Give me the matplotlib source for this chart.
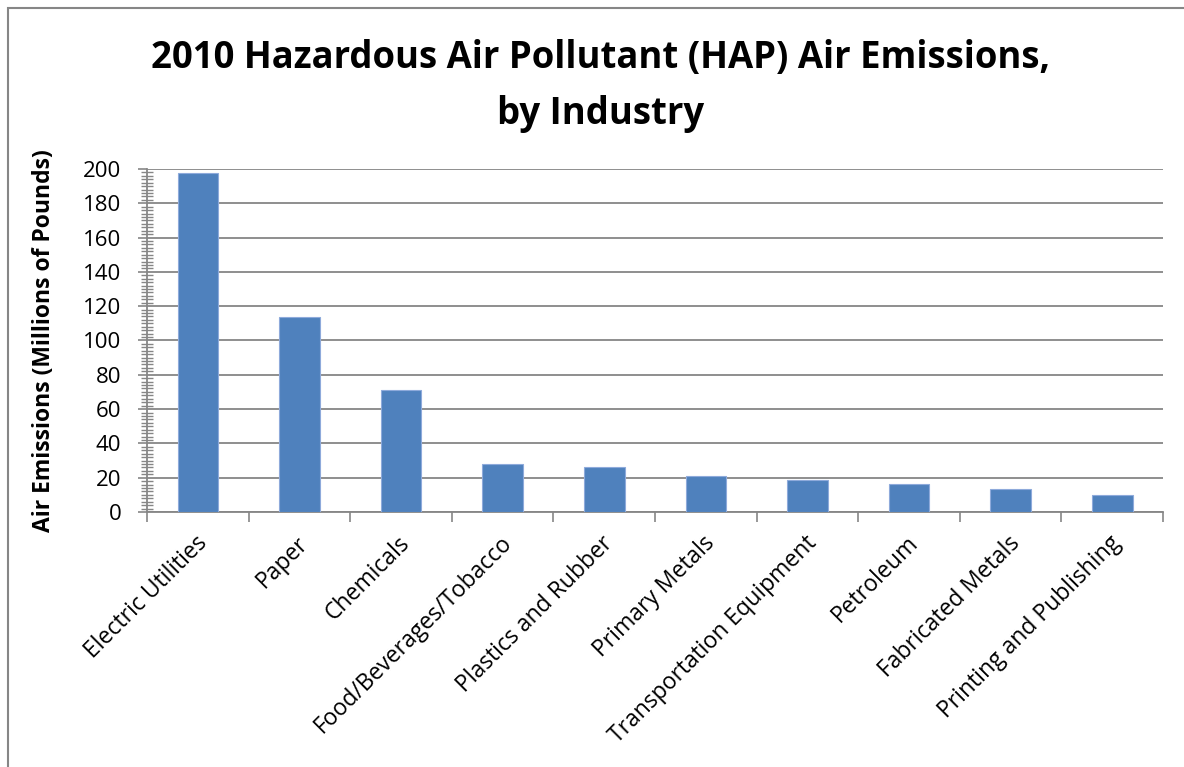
import numpy as np
import matplotlib
matplotlib.use("Agg")
import matplotlib.pyplot as plt
from matplotlib.patches import Rectangle

plt.rcParams['font.family'] = ['Open Sans', 'DejaVu Sans']

industries = ["Electric Utilities", "Paper", "Chemicals", "Food/Beverages/Tobacco",
              "Plastics and Rubber", "Primary Metals", "Transportation Equipment",
              "Petroleum", "Fabricated Metals", "Printing and Publishing"]
emissions = [197.7, 113.7, 71.1, 28.0, 26.0, 21.0, 18.9, 16.5, 13.2, 10.1]
yticks = [0, 20, 40, 60, 80, 100, 120, 140, 160, 180, 200]

grey = "#868686"

fig = plt.figure(figsize=(11.84, 7.67), dpi=100)
ax = fig.add_axes([0.1242, 0.3325, 0.8581, 0.4472])

x = np.arange(len(industries))
ax.bar(x, emissions, width=0.4, color="#4F81BD", edgecolor="#8EAADB", linewidth=0.8, zorder=3)

ax.set_xlim(-0.5, len(industries) - 0.5)
ax.set_ylim(0, 200)
ax.set_yticks(yticks)
ax.set_yticklabels([str(v) for v in yticks], fontsize=16)
ax.set_yticks(np.arange(0, 201, 2), minor=True)
ax.yaxis.grid(True, color=grey, linewidth=1.3, zorder=0)

# category boundaries get the ticks, labels sit at bar centres
ax.set_xticks(np.arange(-0.5, len(industries)), minor=False)
ax.set_xticklabels([])
ax.tick_params(axis='x', which='major', direction='out', length=7, width=1.2, color=grey)
for i, name in enumerate(industries):
    ax.annotate(name, xy=(i, 0), xycoords=('data', 'data'), xytext=(4, -20),
                textcoords='offset points', rotation=45, rotation_mode='anchor',
                ha='right', va='center', fontsize=16.5)

ax.tick_params(axis='y', which='major', direction='out', length=6.5, width=1.2, color=grey, pad=12)
ax.tick_params(axis='y', which='minor', direction='inout', length=8, width=1.0, color=grey)

for s in ['top', 'right']:
    ax.spines[s].set_visible(False)
for s in ['left', 'bottom']:
    ax.spines[s].set_color(grey)
    ax.spines[s].set_linewidth(1.3)

ax.set_ylabel("Air Emissions (Millions of Pounds)", fontsize=16.5, fontweight='bold')
ax.yaxis.set_label_coords(-0.0896, 0.5)

fig.text(0.507, 0.888, "2010 Hazardous Air Pollutant (HAP) Air Emissions,\nby Industry",
         ha='center', va='center', fontsize=26.3, fontweight='bold', linespacing=1.6)

# outer chart border (cut off on right and bottom)
fig.patches.append(Rectangle((8 / 1184, -0.1), 1.2, 1.1 - 8 / 767,
                             transform=fig.transFigure, fill=False,
                             edgecolor=grey, linewidth=1.5))

fig.savefig("out.png", dpi=100)
